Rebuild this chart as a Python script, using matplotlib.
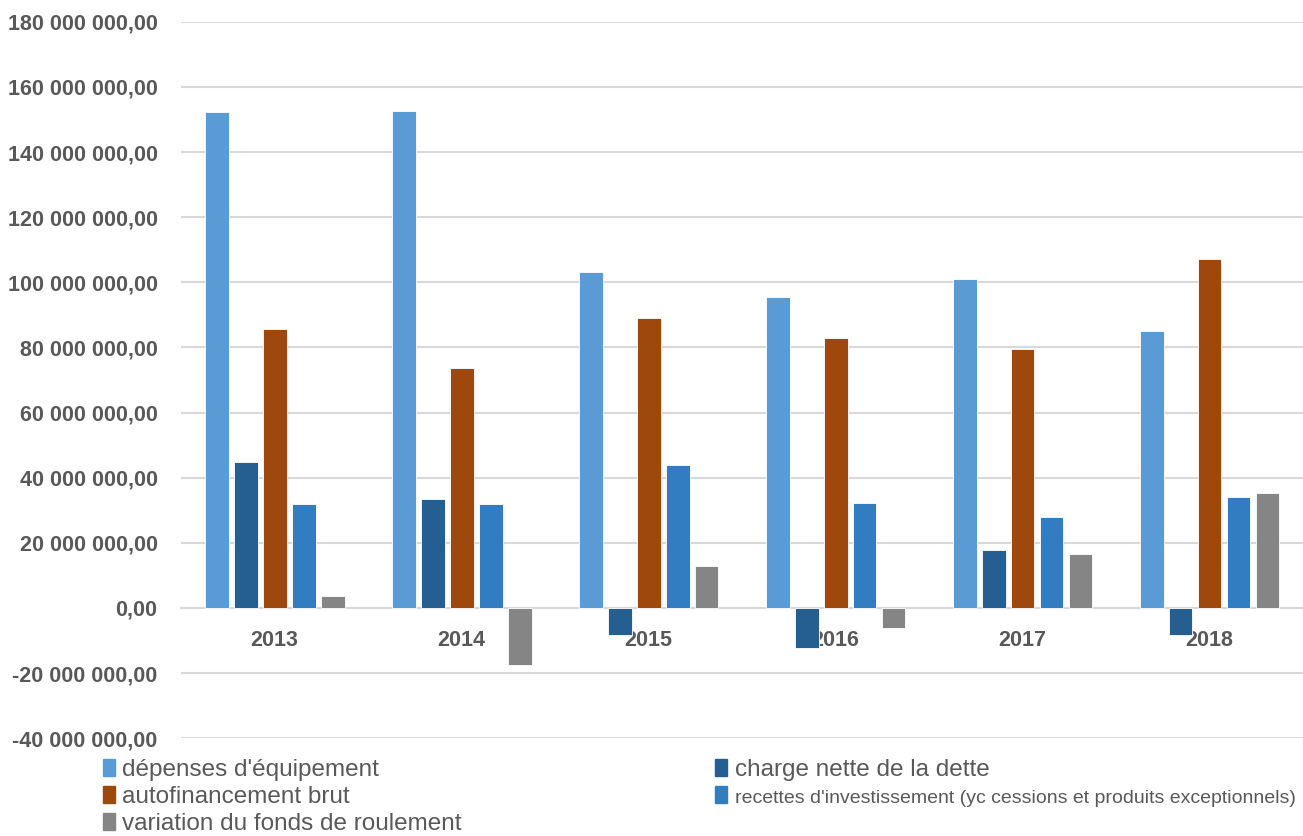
import matplotlib.pyplot as plt
import matplotlib.patches as mpatches
import numpy as np
from matplotlib.ticker import FuncFormatter, MultipleLocator

years = ['2013', '2014', '2015', '2016', '2017', '2018']
depenses = [152.3, 152.7, 103.0, 95.4, 100.9, 84.9]
charge = [44.8, 33.4, -8.4, -12.4, 17.8, -8.4]
autofin = [85.6, 73.6, 88.9, 82.9, 79.5, 107.1]
recettes = [31.9, 31.9, 44.0, 32.3, 27.9, 34.1]
variation = [3.7, -17.5, 13.0, -6.1, 16.6, 35.4]

labels = ["dépenses d'équipement", "charge nette de la dette", "autofinancement brut",
          "recettes d'investissement (yc cessions et produits exceptionnels)",
          "variation du fonds de roulement"]
colors = ['#5B9BD5', '#255E91', '#9E480E', '#327DC2', '#858585']

plt.rcParams['font.family'] = ['Liberation Sans', 'DejaVu Sans']
txt = '#595959'

fig = plt.figure(figsize=(13.03, 8.36), dpi=100)
ax = fig.add_axes([0.139, 0.117, 0.861, 0.857])

series = [depenses, charge, autofin, recettes, variation]
x = np.arange(len(years))
pitch = 0.155
w = 0.128
for i, vals in enumerate(series):
    vals_abs = np.array(vals) * 1e6
    ax.bar(x + (i - 2) * pitch, vals_abs, w, color=colors[i],
           edgecolor='white', linewidth=0.6, zorder=2)

ax.set_xlim(-0.5, len(years) - 0.5)
ax.set_ylim(-40e6, 180e6)
ax.yaxis.set_major_locator(MultipleLocator(20e6))
ax.yaxis.set_major_formatter(FuncFormatter(
    lambda v, p: f"{v:,.2f}".replace(',', ' ').replace('.', ',')))
ax.grid(axis='y', color='#D9D9D9', linewidth=1.5, zorder=0)
ax.set_axisbelow(True)
for s in ['top', 'right', 'left']:
    ax.spines[s].set_visible(False)
ax.spines['bottom'].set_position(('data', 0))
ax.spines['bottom'].set_color('#D9D9D9')
ax.spines['bottom'].set_linewidth(1.5)
ax.spines['bottom'].set_zorder(1)
ax.set_xticks(x)
ax.set_xticklabels(years)
ax.tick_params(axis='x', length=0, pad=16, labelsize=15.5, labelcolor=txt)
ax.tick_params(axis='y', length=0, pad=17, labelsize=15.5, labelcolor=txt)
for t in ax.get_xticklabels() + ax.get_yticklabels():
    t.set_fontweight('bold')

handles = [mpatches.Patch(color=c) for c in colors]
leg_kw = dict(loc='upper left', frameon=False, fontsize=17.5, labelcolor=txt,
              handlelength=0.5, handleheight=0.7, handletextpad=0.3,
              labelspacing=0.2, borderaxespad=0, borderpad=0)
leg1 = fig.legend([handles[0], handles[2], handles[4]], [labels[0], labels[2], labels[4]],
                  bbox_to_anchor=(0.079, 0.092), **leg_kw)
leg2 = fig.legend([handles[1], handles[3]], [labels[1], labels[3]],
                  bbox_to_anchor=(0.549, 0.092), **leg_kw)
leg2.get_texts()[1].set_fontsize(14)

fig.savefig('out.png', dpi=100)
